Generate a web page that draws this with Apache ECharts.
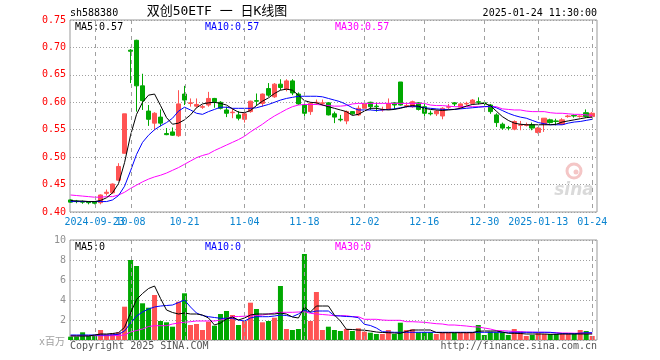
<!DOCTYPE html>
<html><head><meta charset="utf-8">
<script src="https://cdn.jsdelivr.net/npm/echarts@6.0.0/dist/echarts.min.js"></script>
<style>html,body{margin:0;padding:0;background:#fff}#c{width:660px;height:360px;background:#fff}</style>
</head><body><div id="c"></div>
<script>
const dates = ['2024-09-13','2024-09-18','2024-09-19','2024-09-20','2024-09-23','2024-09-24','2024-09-25','2024-09-26','2024-09-27','2024-09-30',
'2024-10-08','2024-10-09','2024-10-10','2024-10-11','2024-10-14','2024-10-15','2024-10-16','2024-10-17','2024-10-18','2024-10-21',
'2024-10-22','2024-10-23','2024-10-24','2024-10-25','2024-10-28','2024-10-29','2024-10-30','2024-10-31','2024-11-01','2024-11-04',
'2024-11-05','2024-11-06','2024-11-07','2024-11-08','2024-11-11','2024-11-12','2024-11-13','2024-11-14','2024-11-15','2024-11-18',
'2024-11-19','2024-11-20','2024-11-21','2024-11-22','2024-11-25','2024-11-26','2024-11-27','2024-11-28','2024-11-29','2024-12-02',
'2024-12-03','2024-12-04','2024-12-05','2024-12-06','2024-12-09','2024-12-10','2024-12-11','2024-12-12','2024-12-13','2024-12-16',
'2024-12-17','2024-12-18','2024-12-19','2024-12-20','2024-12-23','2024-12-24','2024-12-25','2024-12-26','2024-12-27','2024-12-30',
'2024-12-31','2025-01-02','2025-01-03','2025-01-06','2025-01-07','2025-01-08','2025-01-09','2025-01-10','2025-01-13','2025-01-14',
'2025-01-15','2025-01-16','2025-01-17','2025-01-20','2025-01-21','2025-01-22','2025-01-23','2025-01-24'];

// open, close, low, high
const ohlc = [
[0.422,0.418,0.417,0.423],[0.420,0.419,0.416,0.422],[0.419,0.418,0.415,0.421],[0.418,0.417,0.414,0.420],[0.419,0.416,0.414,0.420],
[0.417,0.431,0.414,0.432],[0.434,0.436,0.430,0.441],[0.435,0.451,0.433,0.452],[0.458,0.483,0.457,0.489],[0.507,0.579,0.507,0.579],
[0.695,0.693,0.635,0.697],[0.713,0.630,0.583,0.714],[0.630,0.603,0.586,0.652],[0.584,0.569,0.557,0.595],[0.562,0.580,0.549,0.582],
[0.573,0.562,0.556,0.587],[0.543,0.541,0.540,0.553],[0.546,0.540,0.539,0.554],[0.539,0.597,0.537,0.622],[0.615,0.604,0.595,0.630],
[0.598,0.599,0.592,0.607],[0.593,0.596,0.590,0.607],[0.591,0.592,0.588,0.595],[0.595,0.607,0.592,0.619],[0.607,0.601,0.590,0.608],
[0.600,0.589,0.587,0.602],[0.586,0.580,0.573,0.592],[0.581,0.582,0.571,0.589],[0.577,0.571,0.567,0.584],[0.569,0.579,0.563,0.581],
[0.583,0.602,0.581,0.603],[0.603,0.602,0.594,0.616],[0.598,0.615,0.592,0.616],[0.625,0.613,0.610,0.635],[0.610,0.633,0.608,0.635],
[0.633,0.627,0.622,0.642],[0.624,0.639,0.620,0.642],[0.639,0.617,0.613,0.642],[0.615,0.597,0.595,0.618],[0.595,0.580,0.574,0.597],
[0.583,0.598,0.577,0.600],[0.599,0.600,0.595,0.605],[0.598,0.599,0.594,0.605],[0.599,0.577,0.576,0.600],[0.579,0.573,0.562,0.583],
[0.569,0.568,0.565,0.577],[0.566,0.583,0.560,0.585],[0.583,0.579,0.577,0.584],[0.577,0.589,0.575,0.594],[0.589,0.598,0.586,0.599],
[0.600,0.592,0.586,0.601],[0.593,0.592,0.583,0.599],[0.586,0.587,0.583,0.592],[0.587,0.598,0.586,0.607],[0.599,0.595,0.587,0.600],
[0.637,0.595,0.594,0.637],[0.593,0.594,0.590,0.598],[0.592,0.601,0.590,0.603],[0.599,0.587,0.585,0.600],[0.592,0.580,0.574,0.597],
[0.580,0.579,0.576,0.585],[0.579,0.584,0.575,0.586],[0.575,0.589,0.569,0.591],[0.591,0.592,0.588,0.597],[0.599,0.597,0.593,0.600],
[0.591,0.597,0.589,0.598],[0.597,0.598,0.594,0.601],[0.598,0.604,0.596,0.606],[0.601,0.600,0.596,0.609],[0.599,0.598,0.594,0.603],
[0.595,0.583,0.579,0.597],[0.577,0.563,0.555,0.580],[0.560,0.553,0.550,0.563],[0.554,0.553,0.549,0.557],[0.551,0.565,0.549,0.567],
[0.558,0.559,0.549,0.566],[0.558,0.559,0.556,0.563],[0.559,0.553,0.549,0.563],[0.545,0.553,0.543,0.555],[0.560,0.571,0.546,0.571],
[0.568,0.563,0.561,0.570],[0.566,0.565,0.558,0.570],[0.560,0.568,0.559,0.571],[0.574,0.575,0.572,0.577],[0.576,0.575,0.572,0.578],
[0.574,0.575,0.572,0.576],[0.581,0.574,0.572,0.587],[0.574,0.580,0.572,0.582]];

const priceMA5 = [0.421,0.420,0.420,0.419,0.419,0.421,0.426,0.435,0.452,0.490,
0.540,0.578,0.600,0.613,0.615,0.594,0.572,0.560,0.562,0.568,
0.577,0.590,0.597,0.599,0.600,0.598,0.595,0.588,0.582,0.581,
0.585,0.594,0.602,0.608,0.616,0.622,0.624,0.622,0.613,0.603,
0.600,0.599,0.595,0.592,0.589,0.586,0.583,0.576,0.578,0.584,
0.589,0.589,0.587,0.586,0.587,0.589,0.592,0.594,0.593,0.589,
0.587,0.586,0.585,0.586,0.587,0.589,0.593,0.596,0.597,0.598,
0.594,0.584,0.574,0.567,0.562,0.560,0.559,0.559,0.559,0.559,
0.559,0.560,0.564,0.566,0.568,0.570,0.572,0.573];
const priceMA10 = [0.419,0.419,0.419,0.419,0.419,0.419,0.419,0.422,0.430,0.447,
0.475,0.505,0.527,0.540,0.550,0.557,0.563,0.571,0.584,0.591,
0.586,0.580,0.578,0.583,0.587,0.591,0.591,0.589,0.589,0.589,
0.589,0.590,0.593,0.596,0.600,0.604,0.607,0.609,0.611,0.611,
0.611,0.611,0.610,0.607,0.604,0.601,0.596,0.590,0.586,0.586,
0.586,0.585,0.586,0.587,0.588,0.590,0.592,0.592,0.592,0.590,
0.589,0.588,0.587,0.587,0.587,0.588,0.589,0.590,0.591,0.592,
0.593,0.590,0.585,0.580,0.576,0.573,0.571,0.567,0.563,0.561,
0.559,0.559,0.559,0.562,0.564,0.565,0.567,0.569];
const priceMA30 = [0.431,0.430,0.429,0.428,0.427,0.427,0.428,0.428,0.431,0.436,
0.443,0.449,0.455,0.460,0.464,0.467,0.471,0.476,0.481,0.487,
0.493,0.499,0.503,0.506,0.512,0.517,0.522,0.527,0.532,0.538,
0.546,0.553,0.560,0.568,0.575,0.581,0.587,0.592,0.595,0.596,
0.596,0.596,0.595,0.594,0.593,0.593,0.594,0.597,0.598,0.598,
0.598,0.598,0.598,0.598,0.598,0.598,0.598,0.598,0.598,0.598,
0.595,0.594,0.594,0.593,0.592,0.592,0.592,0.592,0.592,0.592,
0.592,0.592,0.588,0.587,0.586,0.586,0.584,0.583,0.583,0.583,
0.581,0.580,0.580,0.579,0.578,0.578,0.577,0.576];

// volume, millions
const volume = [0.33,0.35,0.77,0.43,0.45,1.0,0.57,0.67,0.77,3.33,
8.0,7.4,3.67,3.23,4.5,1.9,1.77,1.33,3.83,4.67,
1.5,1.6,1.0,1.83,1.43,2.6,2.9,2.5,1.5,1.9,
3.73,3.1,1.77,1.9,2.23,5.4,1.1,1.0,1.1,8.6,
1.9,4.8,1.0,1.33,1.0,0.9,1.1,0.9,1.17,0.83,
0.73,0.6,0.6,1.0,0.6,1.73,1.0,1.07,0.77,0.77,
0.77,0.6,0.73,0.73,0.73,0.73,0.73,0.73,1.5,0.5,
0.83,0.77,0.77,0.5,1.1,0.83,0.4,0.5,0.67,0.6,
0.6,0.6,0.6,0.6,0.6,1.0,0.9,0.4];
const volMA5 = [0.40,0.40,0.40,0.40,0.50,0.60,0.60,0.65,0.73,1.27,
2.70,4.05,4.65,5.15,5.40,4.15,3.00,2.75,2.60,2.70,
2.60,2.60,2.50,2.20,1.50,1.70,2.10,2.30,2.00,2.20,
2.50,2.60,2.60,2.60,2.60,2.70,2.60,2.30,2.20,3.30,
2.80,3.40,3.40,3.40,2.50,1.90,1.07,1.05,1.00,0.98,
0.90,0.80,0.75,0.73,0.70,0.67,0.85,1.00,1.00,1.00,
1.00,0.75,0.73,0.73,0.73,0.73,0.73,0.73,0.88,0.90,
0.90,0.90,0.80,0.67,0.67,0.65,0.60,0.60,0.60,0.60,
0.57,0.57,0.60,0.60,0.60,0.60,0.60,0.60];
const volMA10 = [0.50,0.50,0.50,0.50,0.50,0.50,0.50,0.52,0.57,0.90,
1.70,2.40,2.80,3.10,3.30,3.40,3.45,3.50,3.75,4.00,
3.30,2.70,2.45,2.33,2.25,2.17,2.17,2.17,2.00,1.90,
2.20,2.33,2.33,2.33,2.40,2.50,2.45,2.33,2.60,3.00,
2.77,2.90,2.90,2.90,2.43,2.40,2.35,2.33,2.23,1.57,
1.45,1.20,0.83,0.80,0.77,0.77,0.77,0.77,0.77,0.77,
0.77,0.77,0.77,0.77,0.77,0.77,0.77,0.77,0.77,0.77,
0.77,0.77,0.77,0.77,0.77,0.77,0.77,0.77,0.77,0.77,
0.77,0.70,0.65,0.63,0.63,0.68,0.73,0.73];
const volMA30 = [0.43,0.43,0.43,0.43,0.43,0.43,0.43,0.43,0.45,0.50,
0.80,0.95,1.10,1.35,1.43,1.43,1.43,1.60,1.70,1.77,
1.83,1.90,1.90,1.90,1.90,2.00,2.15,2.33,2.35,2.38,
2.40,2.45,2.50,2.60,2.70,2.77,2.77,2.77,2.80,2.83,
2.67,2.60,2.55,2.50,2.43,2.43,2.43,2.33,2.33,2.07,
2.07,2.07,2.00,1.97,1.97,1.97,1.83,1.83,1.80,1.77,
1.70,1.63,1.60,1.50,1.50,1.45,1.40,1.33,1.30,1.20,
1.10,0.95,0.93,0.90,0.85,0.83,0.80,0.78,0.77,0.77,
0.75,0.73,0.70,0.70,0.68,0.67,0.67,0.67];

const xLabelIdx = [4,10,19,29,39,49,59,69,78,87];
const xLabelText = ['2024-09-23','10-08','10-21','11-04','11-18','12-02','12-16','12-30','2025-01-13','01-24'];
const priceLegend = ['MA5:0.57','MA10:0.57','MA30:0.57'];
const volLegend = ['MA5:0','MA10:0','MA30:0'];
const priceRange = [0.40, 0.75];
const volRange = [0, 10];

const UP = '#ff5353', DOWN = '#00a800';
const MONO = '"DejaVu Sans Mono", "Liberation Mono", monospace';
const chart = echarts.init(document.getElementById('c'));

const candleData = ohlc.map((d, i) => [i, d[0], d[1], d[2], d[3]]);
const volData = volume.map((v, i) => ({value: [i, v], itemStyle: {color: ohlc[i][1] >= ohlc[i][0] ? UP : DOWN}}));
const pairs = arr => arr.map((v, i) => [i, v]);

function txt(x, y, text, fill, align, size) {
  return {type: 'text', x: x, y: y, silent: true, style: {
    text: text, fill: fill, font: (size || 10) + 'px ' + MONO,
    textAlign: align || 'left', align: align || 'left',
    textVerticalAlign: 'middle', verticalAlign: 'middle'}};
}
const evenIdx = xLabelIdx.filter((v, k) => k % 2 === 0);
const oddIdx = xLabelIdx.filter((v, k) => k % 2 === 1);
function labelAxis(vals) {
  return {type: 'value', gridIndex: 0, min: -0.1, max: 87.8, position: 'bottom',
    axisLine: {show: false}, axisTick: {show: false}, splitLine: {show: false},
    axisLabel: {customValues: vals, hideOverlap: false, showMinLabel: true, showMaxLabel: true,
      color: '#0a84d0', fontFamily: MONO, fontSize: 10, margin: 5,
      formatter: v => xLabelText[xLabelIdx.indexOf(Math.round(v))] || ''}};
}

const baseGraphics = [
  {type: 'circle', silent: true, z: 1, shape: {cx: 574, cy: 171, r: 7}, style: {fill: 'none', stroke: '#f4c6c6', lineWidth: 3}},
  {type: 'circle', silent: true, z: 1, shape: {cx: 576, cy: 172, r: 2.5}, style: {fill: '#f4c6c6'}},
  {type: 'text', silent: true, z: 1, x: 574, y: 191, style: {text: 'sina', fill: '#dadada',
    font: 'italic bold 17px "DejaVu Sans", sans-serif', textAlign: 'center', align: 'center', textVerticalAlign: 'middle', verticalAlign: 'middle'}},
  txt(70, 13, 'sh588380', '#000', 'left', 10),
  {type: 'text', silent: true, x: 217, y: 12, style: {text: '双创50ETF 一 日K线图', fill: '#000',
    font: '13px "DejaVu Sans Mono", "Noto Sans CJK SC", monospace', textAlign: 'center', align: 'center', textVerticalAlign: 'middle', verticalAlign: 'middle'}},
  txt(597, 13, '2025-01-24 11:30:00', '#000', 'right', 10),
  txt(75, 27, priceLegend[0], '#000000', 'left', 10),
  txt(205, 27, priceLegend[1], '#0000ff', 'left', 10),
  txt(335, 27, priceLegend[2], '#ff00ff', 'left', 10),
  txt(75, 247, volLegend[0], '#000000', 'left', 10),
  txt(205, 247, volLegend[1], '#0000ff', 'left', 10),
  txt(335, 247, volLegend[2], '#ff00ff', 'left', 10),
  {type: 'text', silent: true, x: 65, y: 342, style: {text: 'x百万', fill: '#a0a0a0',
    font: '10px "DejaVu Sans Mono", "Noto Sans CJK SC", monospace', textAlign: 'right', align: 'right', textVerticalAlign: 'middle', verticalAlign: 'middle'}},
  txt(70, 346, 'Copyright 2025 SINA.COM', '#555', 'left', 10),
  txt(597, 346, 'http://finance.sina.com.cn', '#555', 'right', 10)
];

const option = {
  animation: false,
  grid: [
    {left: 70, right: 63, top: 20, height: 192, show: true, borderColor: '#999', borderWidth: 1},
    {left: 70, right: 63, top: 240, height: 100, show: true, borderColor: '#999', borderWidth: 1}
  ],
  xAxis: [
    labelAxis(evenIdx),
    {type: 'value', gridIndex: 1, min: -0.1, max: 87.8,
     axisLine: {show: false}, axisTick: {show: false}, splitLine: {show: false}, axisLabel: {show: false}},
    labelAxis(oddIdx)
  ],
  yAxis: [
    {type: 'value', gridIndex: 0, min: priceRange[0], max: priceRange[1], interval: 0.05,
     axisLine: {show: false}, axisTick: {show: false},
     splitLine: {show: true, lineStyle: {color: '#a0a0a0', type: [1, 2], width: 1}},
     axisLabel: {color: '#ff0000', fontFamily: MONO, fontSize: 10, margin: 4, formatter: v => v.toFixed(2)}},
    {type: 'value', gridIndex: 1, min: volRange[0], max: volRange[1], interval: 2,
     axisLine: {show: false}, axisTick: {show: false},
     splitLine: {show: true, lineStyle: {color: '#a0a0a0', type: [1, 2], width: 1}},
     axisLabel: {color: '#909090', fontFamily: MONO, fontSize: 10, margin: 4, formatter: v => v === 0 ? '' : String(v)}}
  ],
  series: [
    {type: 'candlestick', xAxisIndex: 0, yAxisIndex: 0, data: candleData,
     encode: {x: 0, y: [1, 2, 3, 4]}, barWidth: 5,
     itemStyle: {color: UP, color0: DOWN, borderColor: UP, borderColor0: DOWN, borderWidth: 1}},
    {type: 'line', xAxisIndex: 0, yAxisIndex: 0, data: pairs(priceMA30), showSymbol: false,
     lineStyle: {color: '#ff00ff', width: 1}},
    {type: 'line', xAxisIndex: 0, yAxisIndex: 0, data: pairs(priceMA10), showSymbol: false,
     lineStyle: {color: '#0000ff', width: 1}},
    {type: 'line', xAxisIndex: 0, yAxisIndex: 0, data: pairs(priceMA5), showSymbol: false,
     lineStyle: {color: '#000000', width: 1}},
    {type: 'bar', xAxisIndex: 1, yAxisIndex: 1, data: volData, barWidth: 5},
    {type: 'line', xAxisIndex: 1, yAxisIndex: 1, data: pairs(volMA30), showSymbol: false,
     lineStyle: {color: '#ff00ff', width: 1}},
    {type: 'line', xAxisIndex: 1, yAxisIndex: 1, data: pairs(volMA10), showSymbol: false,
     lineStyle: {color: '#0000ff', width: 1}},
    {type: 'line', xAxisIndex: 1, yAxisIndex: 1, data: pairs(volMA5), showSymbol: false,
     lineStyle: {color: '#000000', width: 1}}
  ],
  graphic: baseGraphics
};
chart.setOption(option);

// dashed vertical guides at the labelled dates, placed through the axis scales
const guideEls = [];
xLabelIdx.forEach(i => {
  [[0, priceRange], [1, volRange]].forEach(([g, r]) => {
    const a = chart.convertToPixel({gridIndex: g}, [i, r[1]]);
    const b = chart.convertToPixel({gridIndex: g}, [i, r[0]]);
    const x = Math.round(a[0]) + 0.5;
    guideEls.push({type: 'line', silent: true, z: 100,
      shape: {x1: x, y1: a[1], x2: x, y2: b[1]},
      style: {stroke: '#a0a0a0', lineWidth: 1, lineDash: [4, 4]}});
  });
});
chart.setOption({graphic: baseGraphics.concat(guideEls)});
</script>
</body></html>
